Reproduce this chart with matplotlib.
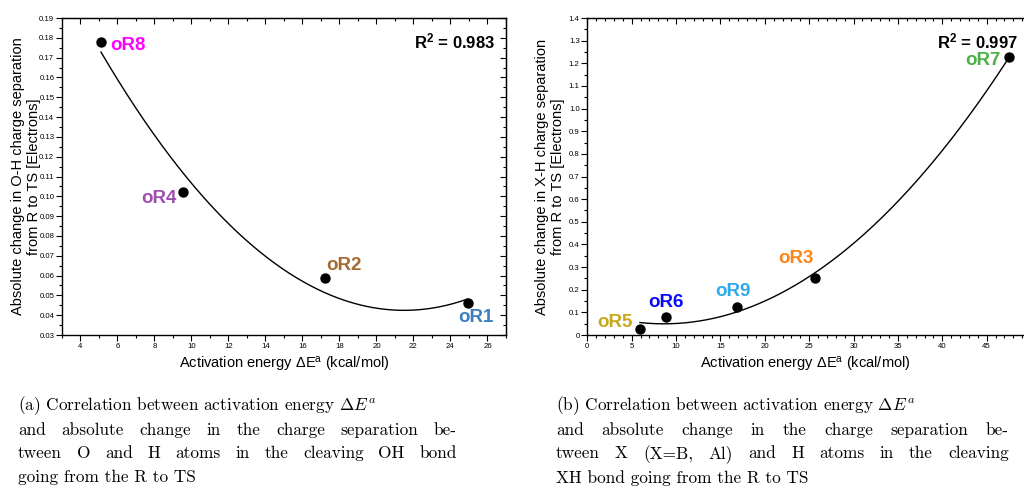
import numpy as np
import matplotlib.pyplot as plt
from matplotlib.ticker import MultipleLocator, FuncFormatter
from matplotlib.transforms import blended_transform_factory

plt.rcParams['font.family'] = ['Liberation Sans', 'DejaVu Sans']
plt.rcParams['mathtext.fontset'] = 'custom'
plt.rcParams['mathtext.rm'] = 'Liberation Sans'
plt.rcParams['mathtext.bf'] = 'Liberation Sans:bold'
plt.rcParams['mathtext.it'] = 'Liberation Sans:italic'

# (a) O-H bond
oh_names = ["oR8", "oR4", "oR2", "oR1"]
oh_energy = [5.11, 9.52, 17.2, 24.93]
oh_charge = [0.1777, 0.1022, 0.0586, 0.0460]
oh_colors = ["#ff00ff", "#9e4fae", "#a56a34", "#3c7dbf"]
oh_r2 = 0.983

# (b) X-H bond
xh_names = ["oR5", "oR6", "oR9", "oR3", "oR7"]
xh_energy = [5.94, 8.83, 16.9, 25.66, 47.48]
xh_charge = [0.025, 0.078, 0.125, 0.250, 1.227]
xh_colors = ["#c8a818", "#0a0aff", "#2fa8ec", "#ff8316", "#4db04a"]
xh_r2 = 0.997

# label offsets in points (dx, dy, ha)
oh_offsets = [(6.5, -2, "left"), (-4, -5, "right"), (1, 9, "left"), (6, -10, "center")]
xh_offsets = [(-5, 5, "right"), (0, 10.5, "center"), (-3, 11.3, "center"),
              (-14, 14.4, "center"), (-6, -2.5, "right")]

caption_a = [r"(a) Correlation between activation energy $\Delta E^a$",
             "and absolute change in the charge separation be-",
             "tween O and H atoms in the cleaving OH bond",
             "going from the R to TS"]
caption_b = [r"(b) Correlation between activation energy $\Delta E^a$",
             "and absolute change in the charge separation be-",
             "tween X (X=B, Al) and H atoms in the cleaving",
             "XH bond going from the R to TS"]

W, H = 1024, 488


def style_axes(ax, xmaj, xmin, ymaj, ymin, yfmt, mirror_right=True):
    ax.xaxis.set_major_locator(MultipleLocator(xmaj))
    ax.xaxis.set_minor_locator(MultipleLocator(xmin))
    ax.yaxis.set_major_locator(MultipleLocator(ymaj))
    ax.yaxis.set_minor_locator(MultipleLocator(ymin))
    ax.yaxis.set_major_formatter(FuncFormatter(yfmt))
    ax.xaxis.set_major_formatter(FuncFormatter(lambda v, p: "%d" % round(v)))
    ax.tick_params(which="both", direction="out", top=False, right=False,
                   labelsize=5.6, width=0.8, colors="black", pad=1.5)
    ax.tick_params(which="major", length=4)
    ax.tick_params(which="minor", length=2)
    for s in ax.spines.values():
        s.set_linewidth(1.0)
    # mirrored ticks pointing inward on top and right
    tw = ax.secondary_xaxis("top")
    tw.xaxis.set_major_locator(MultipleLocator(xmaj))
    tw.xaxis.set_minor_locator(MultipleLocator(xmin))
    tw.tick_params(which="both", direction="in", labeltop=False, width=0.8)
    tw.tick_params(which="major", length=4)
    tw.tick_params(which="minor", length=2)
    if mirror_right:
        rw = ax.secondary_yaxis("right")
        rw.yaxis.set_major_locator(MultipleLocator(ymaj))
        rw.yaxis.set_minor_locator(MultipleLocator(ymin))
        rw.tick_params(which="both", direction="in", labelright=False, width=0.8)
        rw.tick_params(which="major", length=4)
        rw.tick_params(which="minor", length=2)
    else:
        ax.spines["right"].set_visible(False)


def draw_panel(ax, energy, charge, names, colors, offsets):
    coef = np.polyfit(energy, charge, 2)
    xs = np.linspace(min(energy), max(energy), 300)
    ax.plot(xs, np.polyval(coef, xs), color="black", lw=1.0, zorder=2)
    ax.scatter(energy, charge, s=42, color="black", zorder=3)
    for x, y, n, c, (dx, dy, ha) in zip(energy, charge, names, colors, offsets):
        ax.annotate(n, (x, y), xytext=(dx, dy), textcoords="offset points",
                    ha=ha, va="center", color=c, fontsize=13.5, fontweight="bold")


fig = plt.figure(figsize=(W / 100, H / 100), dpi=100)
xlabel = r"Activation energy ΔE$^\mathregular{a}$ (kcal/mol)"

ax1 = fig.add_axes([0.0605, 0.3135, 0.4336, 0.6496])
draw_panel(ax1, oh_energy, oh_charge, oh_names, oh_colors, oh_offsets)
ax1.set_xlim(3, 27)
ax1.set_ylim(0.03, 0.19)
style_axes(ax1, 2, 1, 0.01, 0.005, lambda v, p: "%.2f" % v)
ax1.text(0.975, 0.925, r"R$^\mathbf{2}$ = %.3f" % oh_r2, transform=ax1.transAxes,
         ha="right", va="center", fontsize=12, fontweight="bold")
ax1.set_xlabel(xlabel, fontsize=10.5, labelpad=3.5)
ax1.set_ylabel("Absolute change in O-H charge separation\nfrom R to TS [Electrons]",
               fontsize=10.5, linespacing=1.22)
ax1.yaxis.set_label_coords(-0.047, 0.5)

# right panel runs off the page edge, so no right spine
ax2 = fig.add_axes([0.5735, 0.3135, 1 - 0.5735, 0.6496])
draw_panel(ax2, xh_energy, xh_charge, xh_names, xh_colors, xh_offsets)
ax2.set_xlim(0, 49.21)
ax2.set_ylim(0, 1.4)
style_axes(ax2, 5, 1, 0.1, 0.05, lambda v, p: "0" if abs(v) < 1e-9 else "%.1f" % v,
           mirror_right=False)
ax2.text(1017.5 / W, 0.925, r"R$^\mathbf{2}$ = %.3f" % xh_r2,
         transform=blended_transform_factory(fig.transFigure, ax2.transAxes),
         ha="right", va="center", fontsize=12, fontweight="bold")
ax2.set_xlabel(xlabel, fontsize=10.5, labelpad=3.5)
ax2.set_ylabel("Absolute change in X-H charge separation\nfrom R to TS [Electrons]",
               fontsize=10.5, linespacing=1.22)
ax2.yaxis.set_label_coords(-0.050, 0.5)

# sub-figure captions, justified lines placed word by word
cap_kw = dict(ha="left", va="center", family="cmr10", math_fontfamily="cm", fontsize=12.4)
renderer = fig.canvas.get_renderer()


def caption_line(x0, y, line, width=None):
    if width is None:
        fig.text(x0 / W, y, line, **cap_kw)
        return
    words = line.split(" ")
    widths = []
    for w in words:
        t = fig.text(0, 0, w, **cap_kw)
        widths.append(t.get_window_extent(renderer).width)
        t.remove()
    gap = (width - sum(widths)) / (len(words) - 1)
    x = x0
    for w, wd in zip(words, widths):
        fig.text(x / W, y, w, **cap_kw)
        x += wd + gap


for x0, width, lines in [(18, 439, caption_a), (556, 453, caption_b)]:
    for i, line in enumerate(lines):
        y = 1 - (406 + 23.9 * i) / H
        caption_line(x0, y, line, width if i in (1, 2) else None)

fig.savefig("out.png", dpi=100)
